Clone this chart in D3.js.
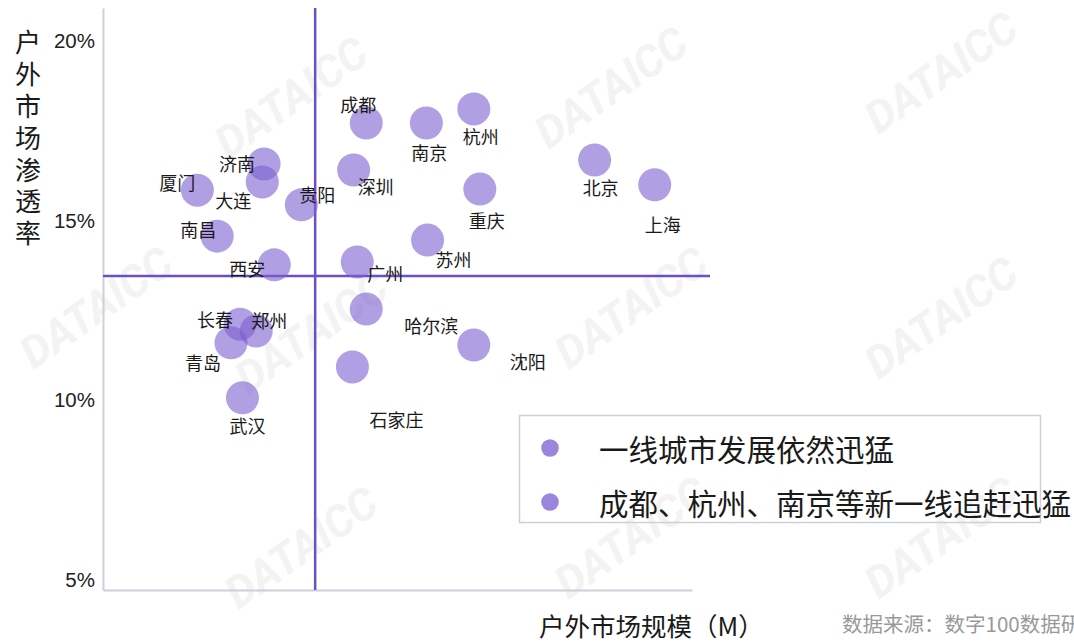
<!DOCTYPE html>
<html>
<head>
<meta charset="utf-8">
<script src="https://cdn.jsdelivr.net/npm/d3@7"></script>
<style>
  html, body { margin: 0; padding: 0; background: #fff; }
  svg { display: block; }
</style>
</head>
<body>
<div id="chart"></div>
<script>
// data
const cities = ['北京', '上海', '成都', '南京', '杭州', '深圳', '重庆', '苏州', '广州',
  '济南', '大连', '厦门', '贵阳', '南昌', '西安', '长春', '郑州', '青岛', '武汉',
  '哈尔滨', '石家庄', '沈阳'];
const marketSize = [81.8, 91.8, 43.8, 53.8, 61.7, 41.7, 62.7, 54.0, 42.3,
  26.8, 26.5, 15.7, 33.0, 19.0, 28.5, 22.8, 25.5, 21.3, 23.2,
  43.8, 41.5, 61.7];
const penetration = [16.69, 16.0, 17.72, 17.72, 18.11, 16.41, 15.88, 14.46, 13.85,
  16.58, 16.08, 15.85, 15.44, 14.57, 13.77, 12.12, 11.93, 11.60, 10.07,
  12.54, 10.93, 11.54];
const yTicks = [5, 10, 15, 20];
const splitX = 35.3;
const splitY = 13.46;
const legendItems = ['一线城市发展依然迅猛', '成都、杭州、南京等新一线追赶迅猛'];
const yTitle = '户外市场渗透率';
const xTitle = '户外市场规模（M）';
const sourceText = '数据来源：数字100数据研究院';

// label placement (px offset from bubble centre)
const labelOffset = {
  '北京': [6, 27], '上海': [8, 39], '成都': [-8, -19], '南京': [3, 29], '杭州': [7, 27],
  '深圳': [22, 16], '重庆': [7, 31], '苏州': [26, 19], '广州': [28, 11], '济南': [-27, -1],
  '大连': [-29, 18], '厦门': [-20, -8], '贵阳': [16, -11], '南昌': [-19, -7], '西安': [-27, 3],
  '长春': [-25, -5], '郑州': [13, -11], '青岛': [-28, 19], '武汉': [5, 27],
  '哈尔滨': [65, 16], '石家庄': [44, 52], '沈阳': [54, 16]
};

const width = 1074, height = 642;
const cjk = '"Noto Sans CJK SC", "Noto Sans", sans-serif';

const svg = d3.select('#chart').append('svg')
  .attr('width', width)
  .attr('height', height);

// faint watermark
const wmSpots = [[300, 110], [620, 100], [950, 85],
  [105, 320], [320, 345], [640, 320], [950, 330],
  [310, 560], [640, 550], [950, 550]];
svg.append('g').selectAll('text')
  .data(wmSpots)
  .enter()
  .append('text')
  .attr('transform', d => `translate(${d[0]},${d[1]}) rotate(-35)`)
  .attr('text-anchor', 'middle')
  .attr('font-family', 'Roboto, sans-serif')
  .attr('font-weight', 'bold')
  .attr('font-style', 'italic')
  .attr('font-size', 44)
  .attr('fill', '#f3f3f3')
  .text('DATAICC');

const xScale = d3.scaleLinear().domain([0, 98]).range([103, 692]);
const yScale = d3.scaleLinear().domain([4.72, 20.92]).range([590, 8]);

// axes
const yAxis = svg.append('g')
  .attr('transform', `translate(${xScale(0)},0)`)
  .call(d3.axisLeft(yScale).tickValues(yTicks).tickSize(0).tickSizeOuter(0).tickPadding(8)
    .tickFormat(d => d + '%'));
yAxis.select('.domain').attr('stroke', '#ccd0da').attr('stroke-width', 2);
yAxis.selectAll('text')
  .attr('font-family', '"Liberation Sans", Arial, sans-serif')
  .attr('font-size', 20.5)
  .attr('fill', '#222');

const xAxis = svg.append('g')
  .attr('transform', `translate(0,${yScale.range()[0]})`)
  .call(d3.axisBottom(xScale).tickValues([]).tickSizeOuter(0));
xAxis.select('.domain').attr('stroke', '#ccd0da').attr('stroke-width', 2);

// quadrant lines
svg.append('line')
  .attr('x1', xScale(splitX)).attr('x2', xScale(splitX))
  .attr('y1', yScale.range()[1]).attr('y2', yScale.range()[0])
  .attr('stroke', '#6a4fc8').attr('stroke-width', 2.5);
svg.append('line')
  .attr('x1', xScale(0)).attr('x2', xScale(101))
  .attr('y1', yScale(splitY)).attr('y2', yScale(splitY))
  .attr('stroke', '#6a4fc8').attr('stroke-width', 2.5);

// bubbles
const points = cities.map((c, i) => ({ city: c, x: marketSize[i], y: penetration[i] }));

svg.append('g').selectAll('circle')
  .data(points)
  .enter()
  .append('circle')
  .attr('cx', d => xScale(d.x))
  .attr('cy', d => yScale(d.y))
  .attr('r', 16.5)
  .attr('fill', '#7c5fce')
  .attr('fill-opacity', 0.6);

svg.append('g').selectAll('text')
  .data(points)
  .enter()
  .append('text')
  .attr('x', d => xScale(d.x) + labelOffset[d.city][0])
  .attr('y', d => yScale(d.y) + labelOffset[d.city][1])
  .attr('text-anchor', 'middle')
  .attr('dominant-baseline', 'central')
  .attr('font-family', cjk)
  .attr('font-size', 18)
  .attr('fill', '#1a1a1a')
  .text(d => d.city);

// y title, set vertically as one text
svg.append('text')
  .attr('x', 28)
  .attr('y', 29.5)
  .attr('writing-mode', 'vertical-rl')
  .attr('letter-spacing', 5.8)
  .attr('font-family', cjk)
  .attr('font-size', 26)
  .attr('fill', '#1a1a1a')
  .text(yTitle);

svg.append('text')
  .attr('x', 539)
  .attr('y', 624)
  .attr('dominant-baseline', 'central')
  .attr('font-family', cjk)
  .attr('font-size', 25.5)
  .attr('fill', '#1a1a1a')
  .text(xTitle);

svg.append('text')
  .attr('x', 842)
  .attr('y', 623)
  .attr('dominant-baseline', 'central')
  .attr('font-family', cjk)
  .attr('font-size', 20.5)
  .attr('fill', '#999')
  .text(sourceText);

// legend
const legend = svg.append('g');
legend.append('rect')
  .attr('x', 519.5).attr('y', 415.5)
  .attr('width', 521).attr('height', 107)
  .attr('fill', 'none')
  .attr('stroke', '#ccd0da')
  .attr('stroke-width', 1.5);

const rows = legend.selectAll('g.row')
  .data(legendItems)
  .enter()
  .append('g')
  .attr('class', 'row')
  .attr('transform', (d, i) => `translate(0,${448 + i * 54})`);
rows.append('circle')
  .attr('cx', 550).attr('cy', 0).attr('r', 8.8)
  .attr('fill', '#9a86dc');
rows.append('text')
  .attr('x', 599)
  .attr('y', 0)
  .attr('dominant-baseline', 'central')
  .attr('font-family', cjk)
  .attr('font-size', 29.5)
  .attr('fill', '#1a1a1a')
  .text(d => d);
</script>
</body>
</html>
